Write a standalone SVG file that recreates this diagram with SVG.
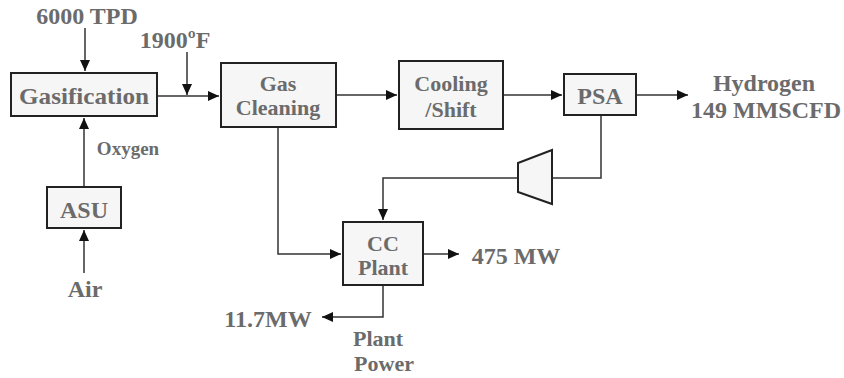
<svg xmlns="http://www.w3.org/2000/svg" width="844" height="378" viewBox="0 0 844 378">
<style>
.box{fill:#f6f6f6;stroke:#222;stroke-width:2}
.lbl{font-family:'Liberation Serif','DejaVu Serif','Times New Roman',Times,serif;font-weight:bold;font-size:24px;fill:#6b6b6b;text-anchor:middle}
.two{font-size:22px}
.ln{fill:none;stroke:#333;stroke-width:1.5}
</style>
<defs>
<marker id="ah" markerWidth="12" markerHeight="12" refX="11" refY="6" orient="auto" markerUnits="userSpaceOnUse">
<path d="M0,1 L11,6 L0,11 Z" fill="#111"/>
</marker>
</defs>
<rect width="844" height="378" fill="#fff"/>
<g id="connectors">
<path class="ln" d="M85,28 V71" marker-end="url(#ah)"/>
<path class="ln" d="M187,52 V95" marker-end="url(#ah)"/>
<path class="ln" d="M157,96 H219" marker-end="url(#ah)"/>
<path class="ln" d="M336,95 H397" marker-end="url(#ah)"/>
<path class="ln" d="M503,95 H562" marker-end="url(#ah)"/>
<path class="ln" d="M636,95 H688" marker-end="url(#ah)"/>
<path class="ln" d="M601,115 V178 H552"/>
<path class="ln" d="M518,178 H383 V220" marker-end="url(#ah)"/>
<path class="ln" d="M278,127 V254 H341" marker-end="url(#ah)"/>
<path class="ln" d="M423,254 H459" marker-end="url(#ah)"/>
<path class="ln" d="M383,285 V317 H322" marker-end="url(#ah)"/>
<path class="ln" d="M84,187 V118" marker-end="url(#ah)"/>
<path class="ln" d="M84,273 V230" marker-end="url(#ah)"/>
</g>
<g id="gasification">
<rect class="box" x="11" y="73" width="146" height="43"/>
<text class="lbl" x="84" y="104" textLength="130" lengthAdjust="spacingAndGlyphs">Gasification</text>
</g>
<g id="gas-cleaning">
<rect class="box" x="221" y="63" width="115" height="64"/>
<text class="lbl two" x="278" y="91">Gas</text>
<text class="lbl two" x="278" y="115">Cleaning</text>
</g>
<g id="cooling-shift">
<rect class="box" x="399" y="61" width="104" height="68"/>
<text class="lbl two" x="451" y="91">Cooling</text>
<text class="lbl two" x="451" y="117">/Shift</text>
</g>
<g id="psa">
<rect class="box" x="564" y="74" width="72" height="41"/>
<text class="lbl" x="600" y="104">PSA</text>
</g>
<g id="compressor">
<polygon class="box" points="518,163 552,150 552,204 518,192"/>
</g>
<g id="asu">
<rect class="box" x="47" y="187" width="74" height="41"/>
<text class="lbl" x="84" y="218">ASU</text>
</g>
<g id="cc-plant">
<rect class="box" x="343" y="222" width="80" height="63"/>
<text class="lbl two" x="383" y="251">CC</text>
<text class="lbl two" x="383" y="275">Plant</text>
</g>
<g id="labels">
<text class="lbl" x="87" y="24">6000 TPD</text>
<text class="lbl" x="175" y="48">1900ºF</text>
<text class="lbl" x="764" y="91">Hydrogen</text>
<text class="lbl" x="766" y="118">149 MMSCFD</text>
<text class="lbl" x="128" y="155" style="font-size:19px">Oxygen</text>
<text class="lbl" x="85" y="297">Air</text>
<text class="lbl" x="516" y="264">475 MW</text>
<text class="lbl" x="268" y="327">11.7MW</text>
<text class="lbl two" x="378" y="346">Plant</text>
<text class="lbl two" x="384" y="371">Power</text>
</g>
</svg>
